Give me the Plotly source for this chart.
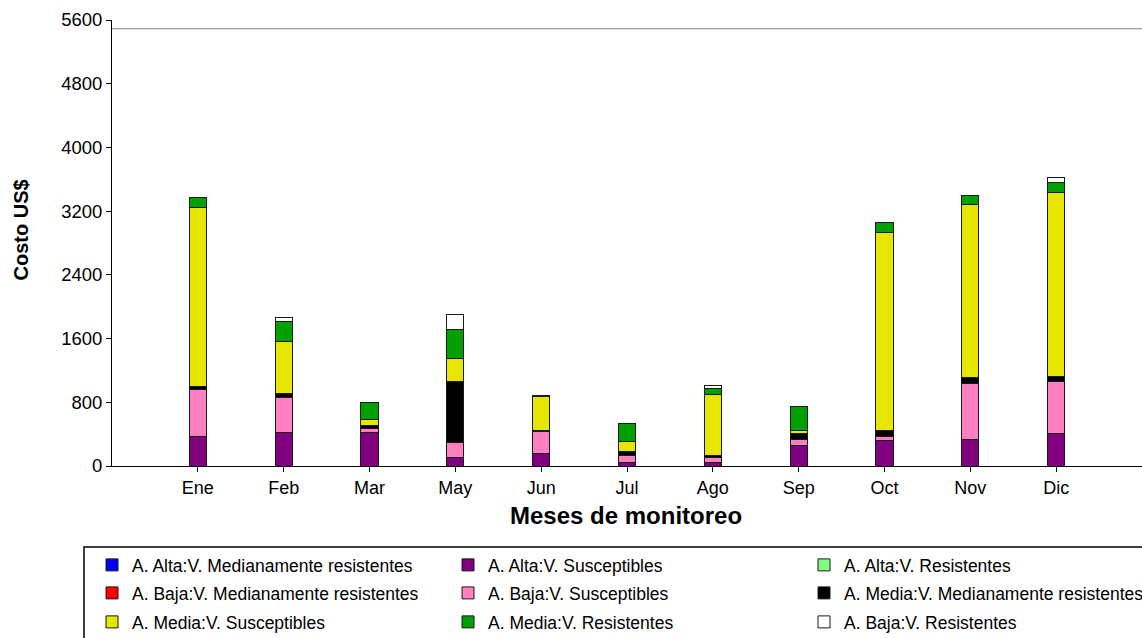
import plotly.graph_objects as go

months = ["Ene", "Feb", "Mar", "May", "Jun", "Jul", "Ago", "Sep", "Oct", "Nov", "Dic"]

# costo por categoria (US$)
alta_med_res = [0, 0, 0, 0, 0, 0, 0, 0, 0, 0, 0]
alta_susc = [365, 415, 418, 110, 155, 45, 50, 262, 322, 333, 402]
alta_res = [0, 0, 0, 0, 0, 0, 0, 0, 0, 0, 0]
baja_med_res = [0, 0, 0, 0, 0, 0, 0, 0, 0, 0, 0]
baja_susc = [595, 445, 55, 180, 276, 85, 52, 72, 45, 705, 657]
media_med_res = [35, 50, 33, 770, 15, 52, 35, 75, 75, 75, 62]
media_susc = [2250, 650, 72, 285, 424, 125, 765, 42, 2485, 2165, 2316]
media_res = [125, 250, 222, 370, 20, 232, 72, 290, 130, 120, 125]
baja_res = [0, 50, 0, 190, 0, 0, 32, 0, 0, 0, 63]

series = [
    ("A. Alta:V. Medianamente resistentes", alta_med_res, "#0000FF"),
    ("A. Alta:V. Susceptibles", alta_susc, "#800080"),
    ("A. Alta:V. Resistentes", alta_res, "#80FF80"),
    ("A. Baja:V. Medianamente resistentes", baja_med_res, "#FF0000"),
    ("A. Baja:V. Susceptibles", baja_susc, "#FF80C0"),
    ("A. Media:V. Medianamente resistentes", media_med_res, "#000000"),
    ("A. Media:V. Susceptibles", media_susc, "#E6E600"),
    ("A. Media:V. Resistentes", media_res, "#00A000"),
    ("A. Baja:V. Resistentes", baja_res, "#FFFFFF"),
]

font = "Liberation Sans, Arial, sans-serif"
legend_ids = ["legend", "legend2", "legend3"]

fig = go.Figure()
for i, (name, vals, col) in enumerate(series):
    fig.add_trace(go.Bar(x=months, y=vals, name=name, width=0.2,
                         legend=legend_ids[i // 3],
                         marker=dict(color=col, line=dict(color="#1a1a1a", width=1))))

# one legend per row so the row spacing matches
leg = dict(orientation="h", x=-0.0194, xanchor="left", yanchor="middle",
           entrywidth=311, entrywidthmode="pixels", traceorder="normal",
           font=dict(size=17.5), borderwidth=0, bgcolor="rgba(0,0,0,0)")

fig.update_layout(
    barmode="stack",
    width=1142, height=638,
    paper_bgcolor="white", plot_bgcolor="white",
    margin=dict(l=112, r=0, t=20, b=172, autoexpand=False),
    font=dict(family=font, size=18, color="black"),
    showlegend=True,
    legend=dict(leg, y=-0.222),
    legend2=dict(leg, y=-0.2848),
    legend3=dict(leg, y=-0.3498),
    xaxis=dict(range=[-1, 11], showline=True, linecolor="black", linewidth=1,
               ticks="outside", ticklen=5, tickcolor="black", showgrid=False,
               tickfont=dict(size=18)),
    yaxis=dict(range=[0, 5600], tickvals=list(range(0, 5601, 800)), showline=True,
               linecolor="black", linewidth=1, ticks="outside", ticklen=5,
               tickcolor="black", showgrid=False, zeroline=False, tickfont=dict(size=18.5)),
    shapes=[
        dict(type="line", xref="paper", x0=0, x1=1, yref="y", y0=5490, y1=5490,
             line=dict(color="#808080", width=1)),
        dict(type="rect", xref="paper", yref="paper", x0=-0.0272, x1=1.02,
             y0=-0.1816, y1=-0.42, line=dict(color="black", width=1.5)),
    ],
    annotations=[
        dict(text="<b>Costo US$</b>", xref="paper", yref="paper", x=-0.0893, y=0.528,
             xanchor="center", yanchor="middle", textangle=-90, showarrow=False,
             font=dict(size=20)),
        dict(text="<b>Meses de monitoreo</b>", xref="paper", yref="paper", x=0.499,
             y=-0.1099, xanchor="center", yanchor="middle", showarrow=False,
             font=dict(size=24)),
    ],
)

fig.write_html("out.html", config={"displayModeBar": False},
               post_script="document.body.style.margin='0';document.body.style.overflow='hidden';")
